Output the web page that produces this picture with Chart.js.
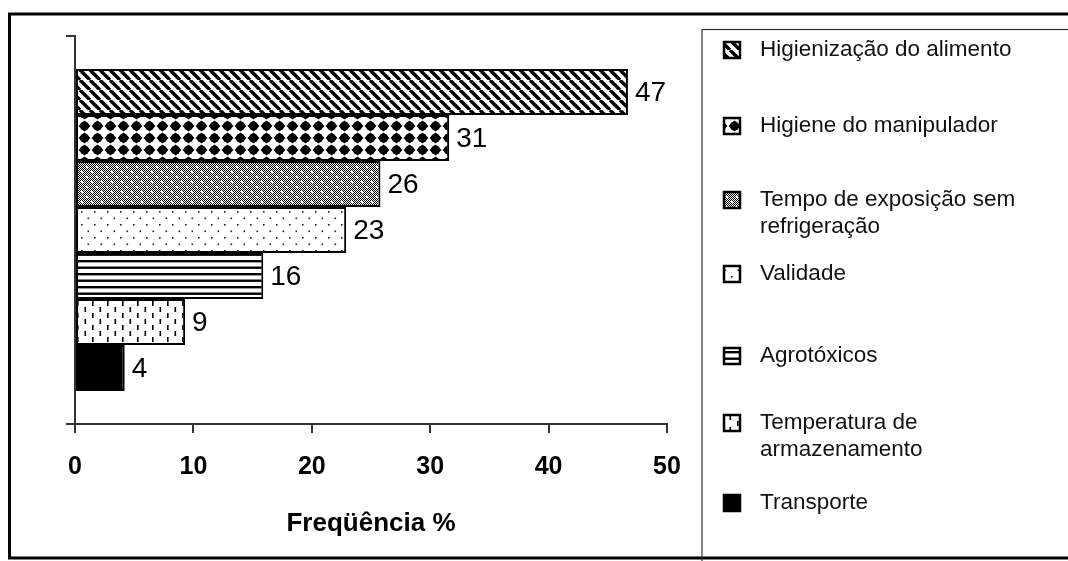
<!DOCTYPE html>
<html>
<head>
<meta charset="utf-8">
<script src="https://cdn.jsdelivr.net/npm/chart.js@4.4.1/dist/chart.umd.min.js"></script>
<style>
  html, body { margin: 0; padding: 0; background: #fff; }
  #wrap { width: 1068px; height: 561px; position: relative; }
</style>
</head>
<body>
<div id="wrap"><canvas id="c" width="1068" height="561"></canvas></div>
<script>
// series (one bar each), top to bottom
const seriesNames = [
  'Higienização do alimento',
  'Higiene do manipulador',
  'Tempo de exposição sem\nrefrigeração',
  'Validade',
  'Agrotóxicos',
  'Temperatura de\narmazenamento',
  'Transporte',
];
const seriesValues = [46.7, 31.6, 25.8, 22.9, 15.9, 9.3, 4.2];
const valueLabels = ['47', '31', '26', '23', '16', '9', '4'];
const xTicks = [0, 10, 20, 30, 40, 50];
const axisTitle = 'Freqüência %';

const SANS = "'Liberation Sans', Arial, sans-serif";

function tile(w, h, draw) {
  const cv = document.createElement('canvas');
  cv.width = w; cv.height = h;
  const g = cv.getContext('2d');
  g.fillStyle = '#fff';
  g.fillRect(0, 0, w, h);
  g.fillStyle = '#000';
  g.strokeStyle = '#000';
  draw(g, w, h);
  return document.getElementById('c').getContext('2d').createPattern(cv, 'repeat');
}

// hatch fills, one per series
const fills = [
  // wide downward diagonal
  tile(10, 10, (g, w, h) => {
    g.lineWidth = 3.4;
    for (const dx of [-w, 0, w]) {
      g.beginPath(); g.moveTo(dx, 0); g.lineTo(dx + w, h); g.stroke();
    }
  }),
  // diamonds
  tile(13, 12, (g, w, h) => {
    g.beginPath();
    g.moveTo(w / 2, 0.5); g.lineTo(w - 0.5, h / 2); g.lineTo(w / 2, h - 0.5); g.lineTo(0.5, h / 2);
    g.closePath(); g.fill();
    g.beginPath(); g.arc(w / 2, h / 2, 4.6, 0, Math.PI * 2); g.fill();
  }),
  // 50% dither with white dots
  tile(10, 10, (g, w, h) => {
    for (let y = 0; y < h; y++) for (let x = 0; x < w; x++) if ((x + y) % 2 === 0) g.fillRect(x, y, 1, 1);
    g.fillStyle = '#fff';
    g.fillRect(1, 1, 2, 2); g.fillRect(6, 6, 2, 2);
  }),
  // sparse dots
  tile(13, 13, (g) => {
    g.fillStyle = '#222';
    g.fillRect(3, 3, 1.6, 1.6); g.fillRect(9.5, 9.5, 1.6, 1.6);
  }),
  // horizontal lines
  tile(8, 13, (g, w) => {
    g.fillRect(0, 0, w, 2.4); g.fillRect(0, 6.5, w, 2.4);
  }),
  // short vertical dashes
  tile(15, 12, (g) => {
    g.fillRect(2, 1, 1.6, 5); g.fillRect(9.5, 7, 1.6, 5);
  }),
  '#000',
];

const frameAndLegend = {
  id: 'frameAndLegend',
  beforeDraw(chart) {
    const ctx = chart.ctx;
    ctx.save();
    ctx.fillStyle = '#fff';
    ctx.fillRect(0, 0, chart.width, chart.height);
    ctx.restore();
  },
  afterDatasetsDraw(chart) {
    const ctx = chart.ctx;
    ctx.save();
    ctx.font = '28px ' + SANS;
    ctx.fillStyle = '#000';
    ctx.textBaseline = 'middle';
    chart.data.datasets.forEach((ds, i) => {
      const bar = chart.getDatasetMeta(i).data[0];
      ctx.fillText(valueLabels[i], bar.x + 7, bar.y + 1);
    });
    ctx.restore();
  },
  afterDraw(chart) {
    const ctx = chart.ctx;
    ctx.save();
    // outer frame
    ctx.strokeStyle = '#000';
    ctx.lineWidth = 3;
    ctx.strokeRect(9.5, 14, 1100, 544);
    // legend box
    ctx.strokeStyle = '#333';
    ctx.lineWidth = 1.2;
    ctx.strokeRect(702, 29.5, 420, 560);
    // legend entries
    const rows = [50, 126, 200, 274, 356, 423, 503];
    ctx.font = '22.5px ' + SANS;
    ctx.textBaseline = 'middle';
    chart.data.datasets.forEach((ds, i) => {
      const y = rows[i];
      ctx.fillStyle = ds.backgroundColor;
      ctx.fillRect(724, y - 8, 16, 16);
      ctx.strokeStyle = '#000';
      ctx.lineWidth = 2.5;
      ctx.strokeRect(724, y - 8, 16, 16);
      ctx.fillStyle = '#111';
      ds.label.split('\n').forEach((line, k) => ctx.fillText(line, 760, y + k * 26.5));
    });
    ctx.restore();
  },
};

new Chart(document.getElementById('c'), {
  type: 'bar',
  data: {
    labels: [''],
    datasets: seriesNames.map((name, i) => ({
      label: name,
      data: [seriesValues[i]],
      backgroundColor: fills[i],
      borderColor: '#000',
      borderWidth: 2,
      borderSkipped: false,
      categoryPercentage: 0.83,
      barPercentage: 1,
    })),
  },
  options: {
    indexAxis: 'y',
    responsive: false,
    animation: false,
    devicePixelRatio: 1,
    layout: { padding: { left: 66, right: 401, top: 36, bottom: 0 } },
    plugins: { legend: { display: false }, tooltip: { enabled: false } },
    scales: {
      y: {
        type: 'category',
        offset: true,
        afterFit: (s) => { s.width = 9; },
        grid: { offset: true, drawOnChartArea: false, tickLength: 9, color: '#333', lineWidth: 2 },
        border: { display: true, color: '#333', width: 2 },
        ticks: { display: false },
      },
      x: {
        min: 0,
        max: 50,
        afterBuildTicks: (s) => { s.ticks = xTicks.map((v) => ({ value: v })); },
        afterFit: (s) => { s.height = 137; },
        grid: { drawOnChartArea: false, tickLength: 9, color: '#333', lineWidth: 2 },
        border: { display: true, color: '#333', width: 2 },
        ticks: {
          color: '#000',
          padding: 19,
          font: { family: SANS, size: 25, weight: 'bold' },
        },
        title: {
          display: true,
          text: axisTitle,
          color: '#000',
          font: { family: SANS, size: 26, weight: 'bold' },
          padding: { top: 0, bottom: 22 },
        },
      },
    },
  },
  plugins: [frameAndLegend],
});
</script>
</body>
</html>
